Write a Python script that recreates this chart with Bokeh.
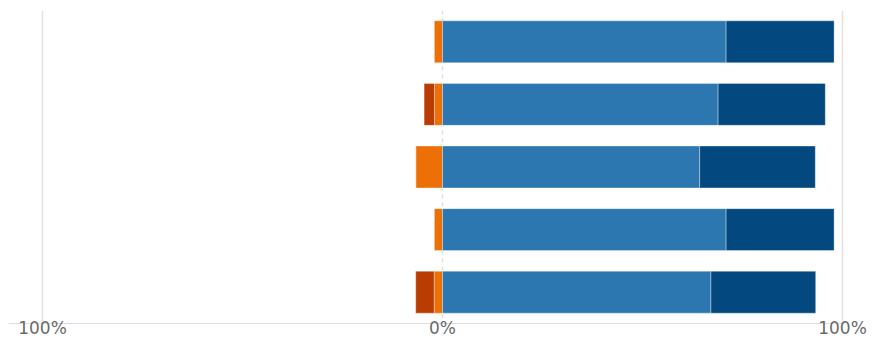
from bokeh.plotting import figure
from bokeh.models import FixedTicker, Span, ColumnDataSource, Range1d, FactorRange
from bokeh.embed import file_html
from bokeh.resources import INLINE

items = ["Item 1", "Item 2", "Item 3", "Item 4", "Item 5"]
strongly_disagree = [0.0, 2.6, 0.0, 0.0, 4.6]
disagree = [2.1, 2.0, 6.7, 2.1, 2.1]
agree = [70.9, 68.9, 64.3, 70.9, 67.1]
strongly_agree = [27.0, 26.8, 28.9, 27.0, 26.2]
tick_values = [-100, 0, 100]
tick_labels = ["100%", "0%", "100%"]

colors = {
    "sd": "#b93c02",
    "d": "#ec7006",
    "a": "#2c77b0",
    "sa": "#03497f",
}

d_left = [-d for d in disagree]
sd_left = [-(d + s) for d, s in zip(disagree, strongly_disagree)]
a_right = agree
sa_right = [a + s for a, s in zip(agree, strongly_agree)]

src = ColumnDataSource(dict(
    y=items,
    zero=[0] * len(items),
    d_left=d_left,
    sd_left=sd_left,
    a_right=a_right,
    sa_right=sa_right,
))

p = figure(
    width=868, height=340,
    x_range=Range1d(-108.5, 100.5),
    y_range=FactorRange(factors=list(reversed(items)), range_padding=0),
    output_backend="svg", toolbar_location=None,
    min_border_left=8, min_border_right=24, min_border_top=10, min_border_bottom=0,
)
p.outline_line_color = None
p.background_fill_color = "white"
p.border_fill_color = "white"

bh = 0.67
p.hbar(y="y", left="d_left", right="zero", height=bh, source=src,
       fill_color=colors["d"], line_color="white", line_alpha=0.35, line_width=1)
p.hbar(y="y", left="sd_left", right="d_left", height=bh, source=src,
       fill_color=colors["sd"], line_color="white", line_alpha=0.35, line_width=1)
p.hbar(y="y", left="zero", right="a_right", height=bh, source=src,
       fill_color=colors["a"], line_color="white", line_alpha=0.35, line_width=1)
p.hbar(y="y", left="a_right", right="sa_right", height=bh, source=src,
       fill_color=colors["sa"], line_color="white", line_alpha=0.35, line_width=1)

p.yaxis.visible = False
p.ygrid.visible = False

p.xgrid.ticker = FixedTicker(ticks=[-100, 100])
p.xgrid.grid_line_color = "#e3e3e3"
p.xgrid.grid_line_width = 1.5

zero_line = Span(location=0, dimension="height", line_color="#e0e0e0",
                 line_width=1.5, line_dash="4 4", level="underlay")
p.add_layout(zero_line)

ax = p.xaxis[0]
ax.ticker = FixedTicker(ticks=tick_values)
ax.major_label_overrides = {v: l for v, l in zip(tick_values, tick_labels)}
ax.major_tick_line_color = None
ax.minor_tick_line_color = None
ax.major_tick_out = 0
ax.major_tick_in = 0
ax.axis_line_color = "#dddddd"
ax.major_label_text_color = "#6b6b6b"
ax.major_label_text_font = "DejaVu Sans"
ax.major_label_text_font_size = "17px"
ax.major_label_standoff = -6

open("out.html", "w").write(file_html(p, INLINE))
